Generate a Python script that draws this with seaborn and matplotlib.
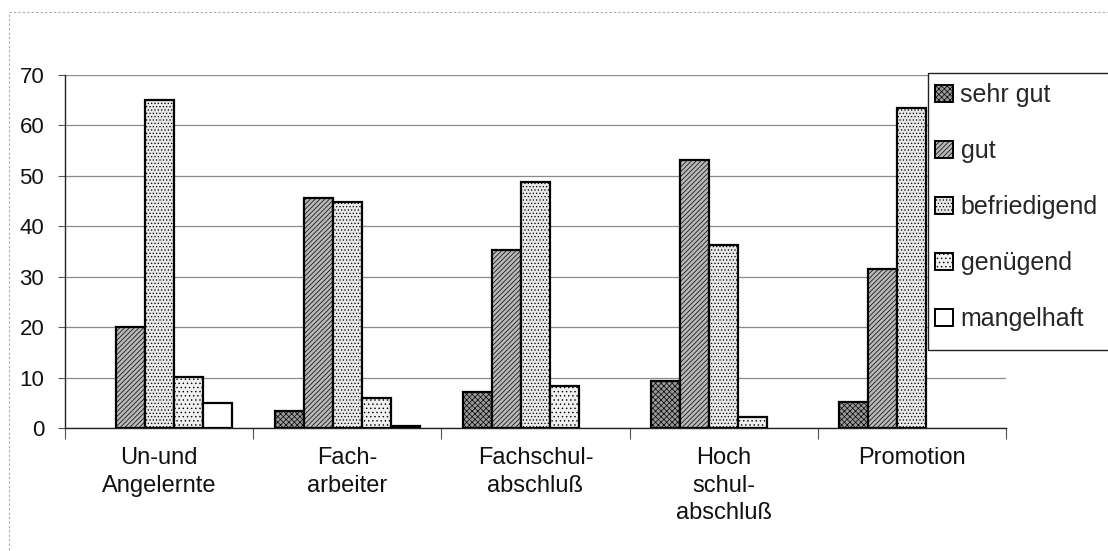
import numpy as np
import pandas as pd
import matplotlib.pyplot as plt
import seaborn as sns
from matplotlib.patches import Rectangle, Patch

sns.set_theme(style="white")
plt.rcParams["font.family"] = ["Liberation Sans", "DejaVu Sans"]
plt.rcParams["hatch.linewidth"] = 0.5

# Daten
groups = ["Un-und\nAngelernte", "Fach-\narbeiter", "Fachschul-\nabschluß",
          "Hoch\nschul-\nabschluß", "Promotion"]
grades = ["sehr gut", "gut", "befriedigend", "genügend", "mangelhaft"]

sehr_gut     = [np.nan, 3.4, 7.2, 9.3, 5.2]
gut          = [20.1, 45.7, 35.2, 53.2, 31.6]
befriedigend = [65.0, 44.9, 48.8, 36.2, 63.4]
genuegend    = [10.1, 6.0, 8.3, 2.2, np.nan]
mangelhaft   = [5.0, 0.4, np.nan, np.nan, np.nan]

series = [sehr_gut, gut, befriedigend, genuegend, mangelhaft]
df = pd.DataFrame({
    "gruppe": groups * len(grades),
    "note":   [g for g in grades for _ in groups],
    "wert":   [v for s in series for v in s],
})

faces   = {"sehr gut": "#9a9a9a", "gut": "#b8b8b8", "befriedigend": "#e8e8e8",
           "genügend": "#f0f0f0", "mangelhaft": "#ffffff"}
hatches = {"sehr gut": "xxxxxx", "gut": "///////", "befriedigend": ".....",
           "genügend": "....", "mangelhaft": ""}

fig = plt.figure(figsize=(11.08, 5.51), dpi=100)
ax = fig.add_axes([65 / 1108, 123 / 551, 941 / 1108, 353 / 551])

sns.barplot(data=df, x="gruppe", y="wert", hue="note", order=groups,
            hue_order=grades, palette=faces, width=0.77, errorbar=None,
            edgecolor="black", linewidth=1.6, saturation=1, legend=False,
            ax=ax, zorder=3)

for cont, g in zip(ax.containers, grades):
    for bar in cont:
        bar.set_hatch(hatches[g])

ax.set_ylim(0, 70)
ax.set_xlim(-0.5, 4.5)
ax.set_yticks(range(0, 71, 10))
ax.yaxis.grid(True, color="#8a8a8a", linewidth=0.9, zorder=0)
ax.set_axisbelow(True)
ax.set_xlabel("")
ax.set_ylabel("")

for s in ["top", "right"]:
    ax.spines[s].set_visible(False)
for s in ["left", "bottom"]:
    ax.spines[s].set_color("#222222")
    ax.spines[s].set_linewidth(1.0)

ax.tick_params(axis="y", which="major", left=True, length=5, width=0.8,
               color="#555555", pad=10, labelsize=16, labelcolor="#111111")
ax.set_xticks(range(len(groups)))
ax.set_xticklabels(groups, fontsize=17, color="#111111", linespacing=1.3)
ax.set_xticks(np.arange(-0.5, 4.6, 1), minor=True)
ax.tick_params(axis="x", which="major", length=0, pad=14)
ax.tick_params(axis="x", which="minor", bottom=True, length=8, width=0.8,
               color="#555555")

# Legendenkasten, rechts abgeschnitten
box = Rectangle((928 / 1108, 1 - 350 / 551), 200 / 1108, 277 / 551,
                transform=fig.transFigure, facecolor="white",
                edgecolor="#222222", linewidth=1.0, clip_on=False)
fig.patches.append(box)

handles = [Patch(facecolor=faces[g], edgecolor="black", hatch=hatches[g],
                 linewidth=1.4) for g in grades]
fig.legend(handles, grades, loc="upper left",
           bbox_to_anchor=(935 / 1108, 1 - 83 / 551), frameon=False,
           fontsize=18, borderpad=0, borderaxespad=0, handlelength=0.72,
           handleheight=0.68, handletextpad=0.3, labelspacing=1.28)

# aeusserer Rahmen (Scan)
frame = Rectangle((9 / 1108, -0.02), 1.1, 1 - 12 / 551 + 0.02,
                  transform=fig.transFigure, facecolor="none",
                  edgecolor="#aaaaaa", linewidth=0.8, linestyle=(0, (2, 2)),
                  clip_on=False, zorder=0)
fig.patches.append(frame)

fig.savefig("out.png", dpi=100)
